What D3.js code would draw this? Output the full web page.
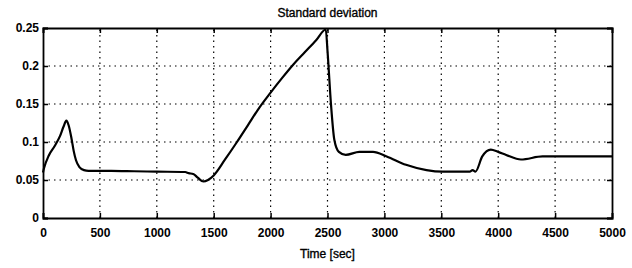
<!DOCTYPE html>
<html>
<head>
<meta charset="utf-8">
<script src="https://cdn.jsdelivr.net/npm/d3@7"></script>
<style>
  body { margin: 0; background: #fff; }
  svg { display: block; }
  text { font-family: "Liberation Sans", Arial, sans-serif; fill: #000; }
</style>
</head>
<body>
<svg id="chart" width="632" height="268"></svg>
<script>
// datos
const timeSec = [0, 10, 50, 100, 150, 180, 205, 225, 250, 270, 290, 320, 360, 400,
  600, 800, 1000, 1250, 1280, 1320, 1360, 1410, 1450, 1500, 1600, 1700, 1800, 1900,
  2000, 2100, 2200, 2300, 2400, 2485, 2500, 2530, 2560, 2600, 2660, 2780, 2900,
  3020, 3190, 3370, 3510, 3750, 3775, 3800, 3860, 3935, 4000, 4070, 4200, 4390, 5000];
const stdDev = [0.06, 0.066, 0.082, 0.094, 0.108, 0.12, 0.128, 0.122, 0.105, 0.088,
  0.076, 0.067, 0.063, 0.062, 0.062, 0.0615, 0.061, 0.0605, 0.059, 0.058, 0.053,
  0.048, 0.05, 0.056, 0.077, 0.099, 0.122, 0.145, 0.165, 0.184, 0.202, 0.218, 0.234,
  0.248, 0.22, 0.151, 0.103, 0.087, 0.083, 0.087, 0.087, 0.081, 0.07, 0.063, 0.061,
  0.061, 0.063, 0.061, 0.081, 0.09, 0.087, 0.083, 0.077, 0.081, 0.081];
const xTicks = [0, 500, 1000, 1500, 2000, 2500, 3000, 3500, 4000, 4500, 5000];
const yTicks = [0, 0.05, 0.1, 0.15, 0.2, 0.25];

const margin = { left: 43, right: 20, top: 28, bottom: 50 };
const width = 632, height = 268;

const svg = d3.select('#chart');

const x = d3.scaleLinear().domain([0, 5000]).range([margin.left, width - margin.right]);
const y = d3.scaleLinear().domain([0, 0.25]).range([height - margin.bottom, margin.top]);

// grilla punteada
const grid = svg.append('g');
grid.selectAll('.gx').data(xTicks.slice(1, -1)).enter().append('line')
  .attr('x1', d => x(d)).attr('x2', d => x(d))
  .attr('y1', y(0)).attr('y2', y(0.25))
  .attr('stroke', '#000').attr('stroke-width', 1.2).attr('stroke-dasharray', '1.5,4');
grid.selectAll('.gy').data(yTicks.slice(1, -1)).enter().append('line')
  .attr('x1', x(0)).attr('x2', x(5000))
  .attr('y1', d => y(d)).attr('y2', d => y(d))
  .attr('stroke', '#000').attr('stroke-width', 1.2).attr('stroke-dasharray', '1.5,4');

// ejes con marcas hacia adentro
const fmtY = d => d === 0 ? '0' : String(d);
const axB = svg.append('g').attr('transform', `translate(0,${y(0)})`)
  .call(d3.axisBottom(x).tickValues(xTicks).tickSize(-5).tickPadding(10).tickFormat(d3.format('d')));
const axL = svg.append('g').attr('transform', `translate(${x(0)},0)`)
  .call(d3.axisLeft(y).tickValues(yTicks).tickSize(-5).tickPadding(4).tickFormat(fmtY));
const axT = svg.append('g').attr('transform', `translate(0,${y(0.25)})`)
  .call(d3.axisTop(x).tickValues(xTicks).tickSize(-5).tickFormat(''));
const axR = svg.append('g').attr('transform', `translate(${x(5000)},0)`)
  .call(d3.axisRight(y).tickValues(yTicks).tickSize(-5).tickFormat(''));

[axB, axL, axT, axR].forEach(a => {
  a.select('.domain').attr('stroke-width', 1.8);
  a.selectAll('.tick line').attr('stroke-width', 1.5);
  a.selectAll('text').style('font-size', '12px').style('font-weight', 'bold')
    .style('font-family', '"Liberation Sans", Arial, sans-serif');
});

// curva
const line = d3.line()
  .x((d, i) => x(timeSec[i]))
  .y(d => y(d))
  .curve(d3.curveMonotoneX);

svg.append('path')
  .datum(stdDev)
  .attr('d', line)
  .attr('fill', 'none')
  .attr('stroke', '#000')
  .attr('stroke-width', 2.2)
  .attr('stroke-linejoin', 'round');

// titulos (trazo leve para que se vean como el escaneo)
svg.append('text')
  .attr('x', (x(0) + x(5000)) / 2).attr('y', 17)
  .attr('text-anchor', 'middle')
  .style('font-size', '12px')
  .attr('stroke', '#000').attr('stroke-width', 0.35)
  .text('Standard deviation');

svg.append('text')
  .attr('x', (x(0) + x(5000)) / 2).attr('y', 258)
  .attr('text-anchor', 'middle')
  .style('font-size', '12px')
  .attr('stroke', '#000').attr('stroke-width', 0.35)
  .text('Time [sec]');
</script>
</body>
</html>
